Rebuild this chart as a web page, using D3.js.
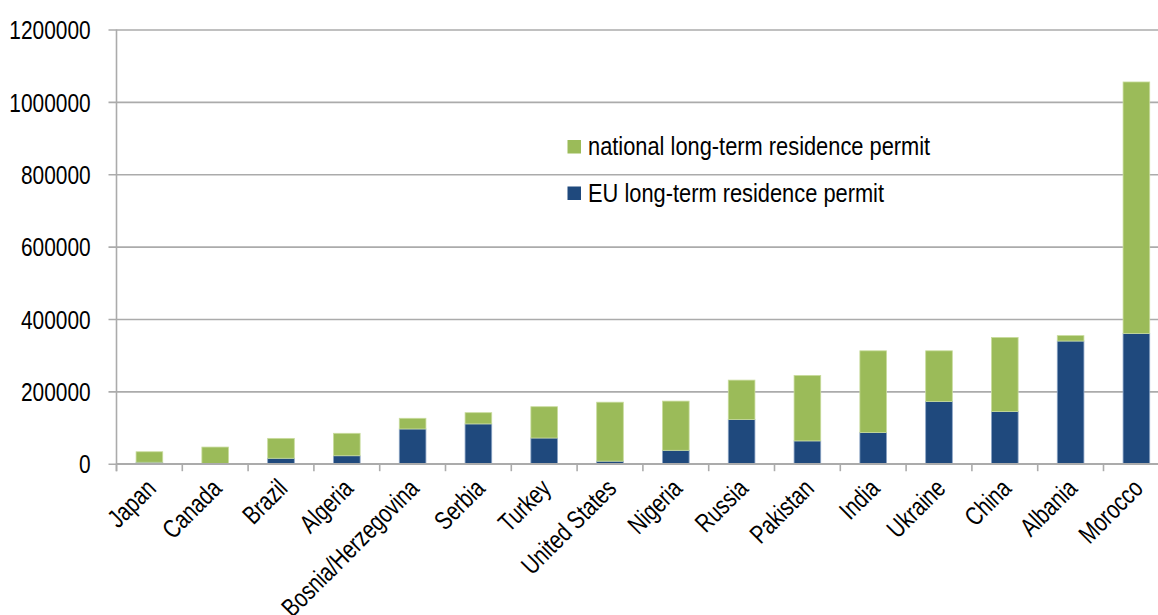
<!DOCTYPE html>
<html>
<head>
<meta charset="utf-8">
<script src="https://cdn.jsdelivr.net/npm/d3@7"></script>
<style>
  html, body { margin: 0; padding: 0; background: #fff; }
  svg { display: block; }
  text { font-family: "Liberation Sans", Arial, sans-serif; fill: #000; }
</style>
</head>
<body>
<svg id="chart" width="1158" height="615"></svg>
<script>
const categories = ["Japan", "Canada", "Brazil", "Algeria", "Bosnia/Herzegovina", "Serbia", "Turkey", "United States", "Nigeria", "Russia", "Pakistan", "India", "Ukraine", "China", "Albania", "Morocco"];
const euPermits = [4000, 500, 15000, 22000, 96000, 110000, 71000, 7000, 37000, 122000, 63000, 86000, 172000, 144000, 339000, 360000];
const nationalPermits = [29000, 45500, 55000, 62000, 29500, 31000, 86500, 163000, 136000, 109000, 181000, 226000, 140000, 205000, 15000, 695000];
const yTicks = [0, 200000, 400000, 600000, 800000, 1000000, 1200000];
const seriesNames = ["national long-term residence permit", "EU long-term residence permit"];
const seriesColors = ["#9bbb59", "#1f497d"];

(function () {
const svg = d3.select("#chart");
const plotLeft = 116.5, plotRight = 1169.3, plotTop = 29.5, plotBottom = 463.7;
const narrow = 0.82;
const fs = 25.5;

const x = d3.scaleBand().domain(categories).range([plotLeft, plotRight]).padding(0);
const y = d3.scaleLinear().domain([0, 1200000]).range([plotBottom, plotTop]);

// gridlines + y axis
const yAxis = d3.axisLeft(y).tickValues(yTicks).tickSizeInner(-(plotRight - plotLeft)).tickSizeOuter(0).tickFormat(d => String(d));
const gy = svg.append("g").attr("transform", `translate(${plotLeft},0)`).call(yAxis);
gy.select(".domain").remove();
gy.selectAll(".tick line").attr("x1", -8).attr("stroke", "#ababab").attr("stroke-width", 1.6);
gy.selectAll(".tick text")
  .attr("x", null).attr("dy", null)
  .attr("transform", `translate(-25.8,9.2) scale(${narrow},1)`)
  .attr("text-anchor", "end")
  .style("font-size", fs + "px")
  .style("font-family", '"Liberation Sans", Arial, sans-serif')
  .attr("fill", "#000");

// vertical axis line
svg.append("line").attr("x1", plotLeft).attr("x2", plotLeft).attr("y1", plotTop).attr("y2", plotBottom + 7.5)
  .attr("stroke", "#ababab").attr("stroke-width", 1.6);

// stacked bars
const stackData = categories.map((c, i) => ({ cat: c, eu: euPermits[i], national: nationalPermits[i] }));
const stack = d3.stack().keys(["eu", "national"]);
const layers = stack(stackData);
const bw = x.bandwidth() * 0.405;
const colorOf = { national: seriesColors[0], eu: seriesColors[1] };
const strokeOf = { national: "#c9dc9d", eu: "#8aa3c4" };

svg.append("g").selectAll("g").data(layers).join("g")
  .attr("fill", d => colorOf[d.key])
  .selectAll("rect").data(d => d.map(v => ({ v, key: d.key }))).join("rect")
  .attr("x", d => x(d.v.data.cat) + x.bandwidth() / 2 - bw / 2)
  .attr("width", bw)
  .attr("y", d => y(d.v[1]))
  .attr("height", d => Math.max(0, y(d.v[0]) - y(d.v[1])))
  .attr("stroke", d => strokeOf[d.key])
  .attr("stroke-width", 0.8);

// x axis line and ticks at band boundaries
svg.append("line").attr("x1", plotLeft).attr("x2", plotRight).attr("y1", plotBottom).attr("y2", plotBottom)
  .attr("stroke", "#ababab").attr("stroke-width", 1.6);
const boundaries = categories.map(c => x(c)).concat([x(categories[categories.length - 1]) + x.step()]);
svg.append("g").selectAll("line").data(boundaries).join("line")
  .attr("x1", d => d).attr("x2", d => d).attr("y1", plotBottom).attr("y2", plotBottom + 7.5)
  .attr("stroke", "#ababab").attr("stroke-width", 1.6);

// x labels
svg.append("g").selectAll("text").data(categories).join("text")
  .attr("transform", d => `translate(${x(d) + x.bandwidth() / 2 + 8},${490}) rotate(-45) scale(0.78,1)`)
  .attr("text-anchor", "end")
  .style("font-size", "26px")
  .text(d => d);

// legend
const legend = svg.append("g");
const legendRows = [{ name: seriesNames[0], color: seriesColors[0], y: 155 }, { name: seriesNames[1], color: seriesColors[1], y: 201.5 }];
legendRows.forEach(r => {
  legend.append("rect").attr("x", 567.5).attr("y", r.y - 15).attr("width", 13.5).attr("height", 13.5).attr("fill", r.color);
  legend.append("text")
    .attr("transform", `translate(588,${r.y}) scale(0.84,1)`)
    .style("font-size", "26px")
    .text(r.name);
});
})();
</script>
</body>
</html>
